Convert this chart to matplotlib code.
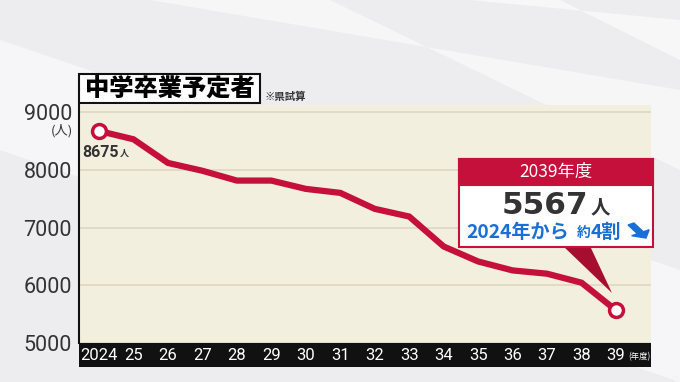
import matplotlib.pyplot as plt
import matplotlib.patches as patches
import numpy as np

plt.rcParams['font.family'] = ['Noto Sans CJK JP', 'DejaVu Sans']

years = list(range(2024, 2040))
students = [8675, 8531, 8121, 7985, 7815, 7815, 7671, 7602, 7325, 7192,
            6673, 6413, 6258, 6201, 6045, 5567]
year_labels = ['2024'] + [str(y)[2:] for y in years[1:]]
y_ticks = [5000, 6000, 7000, 8000, 9000]

W, H = 680, 382
RED = '#c4103a'
DARK = '#333333'
BLUE = '#1a6fd6'


def px(x, y):
    return (x / W, 1 - y / H)


fig = plt.figure(figsize=(6.8, 3.82), dpi=100)
fig.patch.set_facecolor('#ededf0')

# background stripes
for pts, a in [([(0, 40), (0, 150), (680, 382), (680, 270)], 0.55),
               ([(150, 0), (330, 0), (680, 170), (680, 90)], 0.5),
               ([(470, 0), (560, 0), (680, 60), (680, 20)], 0.6)]:
    fig.add_artist(patches.Polygon([px(*p) for p in pts], closed=True,
                                   transform=fig.transFigure, facecolor='white',
                                   alpha=a, edgecolor='none', zorder=0))

x0, x1 = 2024 - 20 / 34.47, 2039 + 35 / 34.47
ax = fig.add_axes([79 / W, 1 - 343 / H, (651 - 79) / W, (343 - 105) / H])
ax.set_facecolor('#f3efdf')
ax.set_xlim(x0, x1)
ax.set_ylim(5000, 9125)
ax.set_yticks(y_ticks)
ax.set_yticklabels([str(v) for v in y_ticks], family='Roboto', fontsize=15.5, color=DARK)
ax.tick_params(axis='y', length=0, pad=5)
ax.set_xticks([])
for s in ['top', 'right', 'bottom']:
    ax.spines[s].set_visible(False)
ax.spines['left'].set_color('#111111')
ax.spines['left'].set_linewidth(1.5)
ax.grid(axis='y', color='#ddd6c2', linewidth=1.2)
ax.set_axisbelow(True)

ax.plot(years, students, color=RED, linewidth=4.5, solid_joinstyle='miter', zorder=3)
ax.plot([years[0], years[-1]], [students[0], students[-1]], linestyle='none',
        marker='o', markersize=10, markerfacecolor='white', markeredgecolor=RED,
        markeredgewidth=2.5, zorder=4)
ax.text(years[0] - 0.5, students[0] - 370, str(students[0]), family='Roboto',
        fontsize=11.5, fontweight='bold', color=DARK, va='center', ha='left')
ax.text(years[0] + 0.6, students[0] - 390, '人', fontsize=6.5, fontweight='bold',
        color=DARK, va='center', ha='left')

# x axis band
bx = fig.add_axes([79 / W, 1 - 367 / H, (651 - 79) / W, 24 / H])
bx.set_facecolor('#111111')
bx.set_xlim(x0, x1)
bx.set_ylim(0, 1)
bx.set_xticks([])
bx.set_yticks([])
for s in bx.spines.values():
    s.set_visible(False)
for yr, lab in zip(years, year_labels):
    bx.text(yr, 0.47, lab, family='Roboto', fontsize=12, color='white',
            ha='center', va='center')
bx.text(2039.35, 0.45, '(年度)', fontsize=6, color='white', ha='left', va='center')

# y unit
fig.text(73 / W, 1 - 131 / H, '(人)', fontsize=9.5, color=DARK, ha='right', va='center')

# title box
fig.add_artist(patches.Rectangle(px(79, 103), 181 / W, 29 / H, transform=fig.transFigure,
                                 facecolor='white', edgecolor='#111111', linewidth=1.5))
fig.text(170 / W, 1 - 88.5 / H, '中学卒業予定者', fontsize=17.5, fontweight=900,
         color='black', ha='center', va='center')
fig.text(265 / W, 1 - 97 / H, '※県試算', fontsize=7.5, fontweight='bold',
         color=DARK, ha='left', va='center')

# callout
fig.add_artist(patches.Polygon([px(563, 246), px(590, 246), px(612, 293)], closed=True,
                               transform=fig.transFigure, facecolor='#a60e30',
                               edgecolor='none', zorder=5))
fig.add_artist(patches.Rectangle(px(459, 247), 194 / W, 88 / H, transform=fig.transFigure,
                                 facecolor='white', edgecolor=RED, linewidth=1.5, zorder=6))
fig.add_artist(patches.Rectangle(px(459, 185), 194 / W, 26 / H, transform=fig.transFigure,
                                 facecolor=RED, edgecolor=RED, linewidth=1.5, zorder=7))
fig.text(556 / W, 1 - 172 / H, '2039年度', fontsize=12.5, color='white',
         ha='center', va='center', zorder=8)
fig.text(588 / W, 1 - 205 / H, str(students[-1]), family='DejaVu Sans', fontsize=22.5,
         fontweight='bold', color=DARK, ha='right', va='center', zorder=8)
fig.text(591 / W, 1 - 208 / H, '人', fontsize=14, fontweight='bold', color=DARK,
         ha='left', va='center', zorder=8)
fig.text(466 / W, 1 - 232 / H, '2024年から', fontsize=13.8, fontweight='bold',
         color=BLUE, ha='left', va='center', zorder=8)
fig.text(577 / W, 1 - 233 / H, '約', fontsize=10, fontweight='bold',
         color=BLUE, ha='left', va='center', zorder=8)
fig.text(591 / W, 1 - 232 / H, '4割', fontsize=13.8, fontweight='bold',
         color=BLUE, ha='left', va='center', zorder=8)
fig.add_artist(patches.FancyArrow(631 / W, 1 - 224 / H, 15 / W, -14 / H, width=0.01,
                                  head_width=0.03, head_length=0.016,
                                  length_includes_head=True, transform=fig.transFigure,
                                  color=BLUE, zorder=8))

fig.savefig('out.png', dpi=100, facecolor=fig.get_facecolor())
